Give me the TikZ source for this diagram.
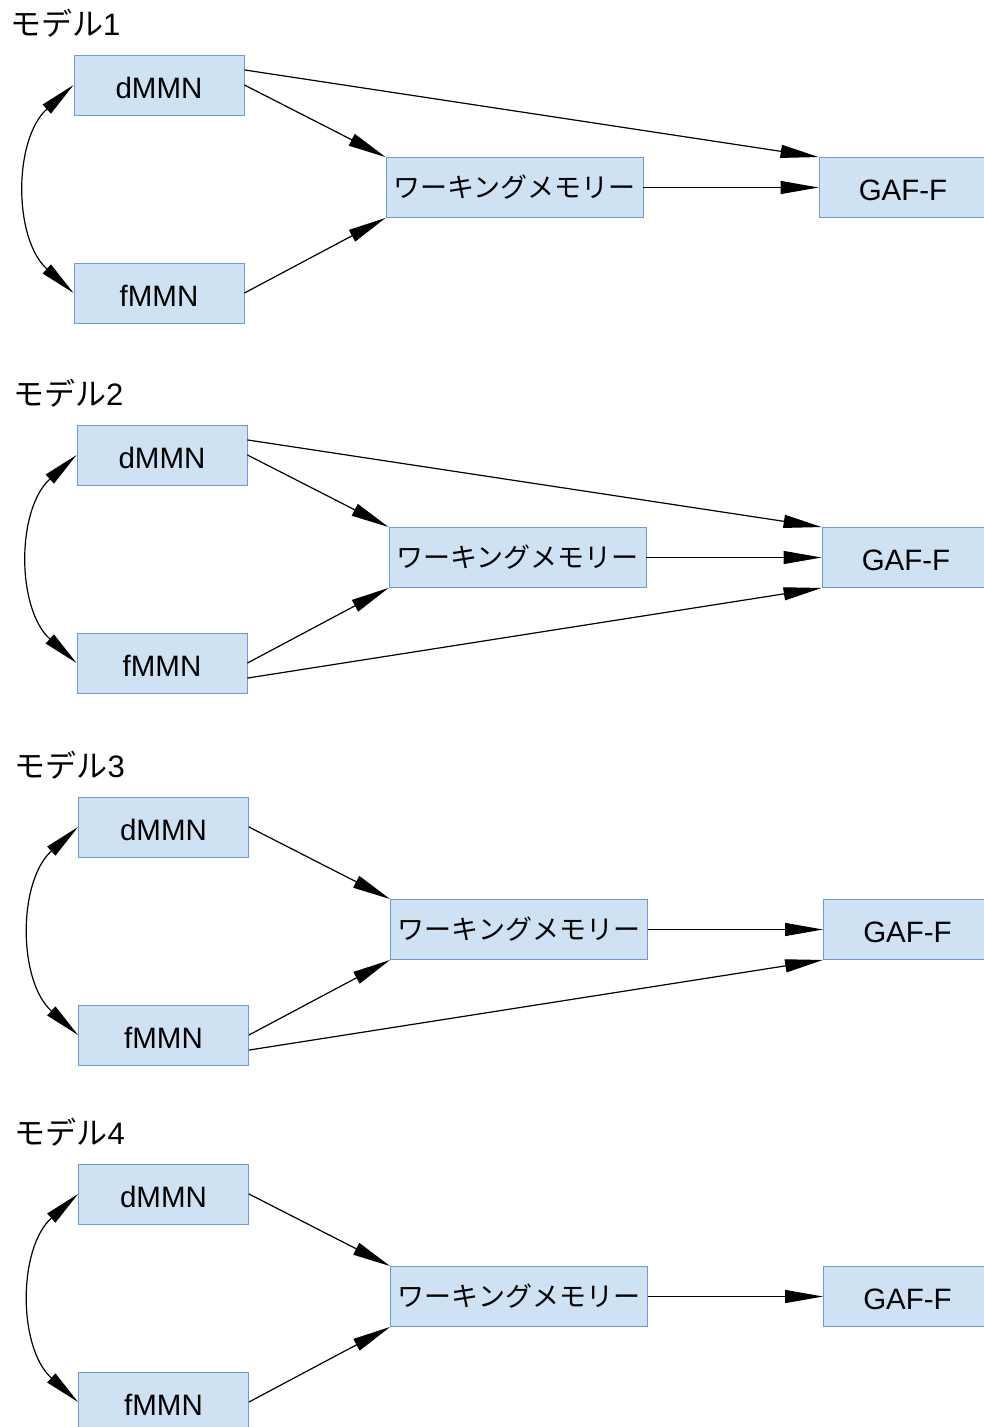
\documentclass[tikz,border=0pt]{standalone}
\usepackage{fontspec}
\setmainfont{Liberation Sans}
\newfontfamily\jpfont{Noto Sans CJK JP}
\usetikzlibrary{arrows.meta}
\definecolor{boxfill}{HTML}{CFE2F3}
\definecolor{boxline}{HTML}{6C9BD2}
\newcommand{\lowtxt}[1]{\raisebox{-2.5pt}[\height][\depth]{#1}}
\begin{document}
\begin{tikzpicture}[x=1pt, y=-1pt,
        box/.style={draw=boxline, fill=boxfill, line width=0.9pt, minimum width=170pt, minimum height=60pt,
                    inner sep=0pt, font=\fontsize{29.5}{33}\selectfont},
        wmbox/.style={box, minimum width=257pt, font=\jpfont\fontsize{27}{30}\selectfont},
        gafbox/.style={box, minimum width=168pt},
        title/.style={anchor=west, inner sep=0pt, font=\fontsize{31}{34}\selectfont},
        arr/.style={line width=1.2pt, -{Triangle[length=38pt, width=13pt]}},
        biarr/.style={line width=1.2pt, {Triangle[length=36pt, width=12pt]}-{Triangle[length=36pt, width=12pt]}}]
    \useasboundingbox (0,0) rectangle (983,1427);

    % Boxes and common paths of the four models
    \foreach \m/\dx/\dy in {1/0/0, 2/3/370, 3/4.5/742, 4/4.5/1109} {
        \begin{scope}[shift={(\dx,\dy)}]
            \node[title] (t\m) at (10,23) {{\jpfont モデル}\m};
            \node[box] (d\m) at (159,85) {\lowtxt{dMMN}};
            \node[box] (f\m) at (159,293) {\lowtxt{fMMN}};
            \node[wmbox] (wm\m) at (514.5,187.5) {ワーキングメモリー};
            \node[gafbox] (gaf\m) at (903,187.5) {\lowtxt{GAF-F}};

            \draw[arr] (d\m.east) -- (wm\m.north west);
            \draw[arr] (f\m.east) -- (wm\m.south west);
            \draw[arr] (wm\m.east) -- (gaf\m.west);
            \draw[biarr] (d\m.west) to[bend right=48] (f\m.west);
        \end{scope}
    }

    % dMMN -> GAF-F (models 1, 2)
    \foreach \m in {1,2}
        \draw[arr] (d\m.10) -- (gaf\m.north west);

    % fMMN -> GAF-F (models 2, 3)
    \foreach \m in {2,3}
        \draw[arr] (f\m.-10) -- (gaf\m.south west);
\end{tikzpicture}
\end{document}
